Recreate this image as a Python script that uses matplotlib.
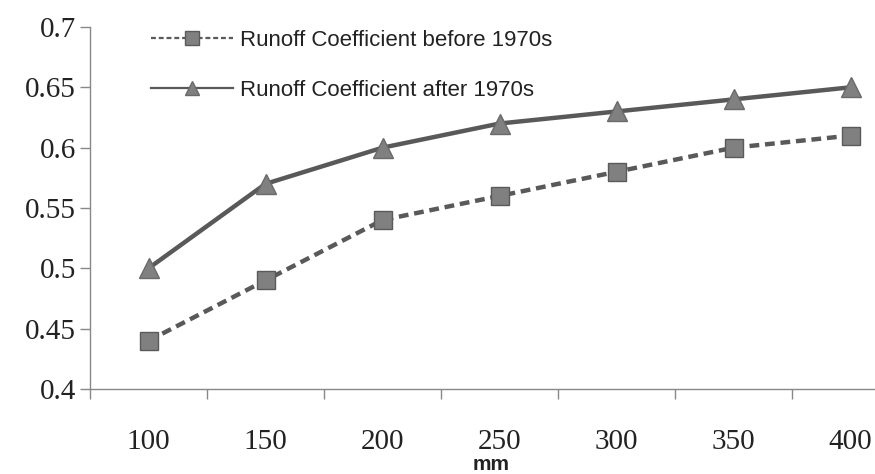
import matplotlib
matplotlib.use("Agg")
import matplotlib.pyplot as plt
from matplotlib.ticker import FixedLocator

categories = ["100", "150", "200", "250", "300", "350", "400"]
before_1970 = [0.44, 0.49, 0.54, 0.56, 0.58, 0.60, 0.61]
after_1970 = [0.50, 0.57, 0.60, 0.62, 0.63, 0.64, 0.65]
y_ticks = [0.4, 0.45, 0.5, 0.55, 0.6, 0.65, 0.7]
y_labels = ["0.4", "0.45", "0.5", "0.55", "0.6", "0.65", "0.7"]

fig = plt.figure(figsize=(8.75, 4.74), dpi=100)
ax = fig.add_axes([90/875, 1-389/474, 819/875, (389-27)/474])

x = list(range(len(categories)))
line_col = "#595959"
face_col = "#808080"
ax.plot(x, before_1970, linestyle=(0, (2.2, 1.3)), color=line_col, lw=3.2,
        marker="s", markersize=13, markerfacecolor=face_col, markeredgecolor="#5a5a5a",
        markeredgewidth=1, label="Runoff Coefficient before 1970s")
ax.plot(x, after_1970, linestyle="-", color=line_col, lw=3.2,
        marker="^", markersize=14, markerfacecolor=face_col, markeredgecolor="#6a6a6a",
        markeredgewidth=1, label="Runoff Coefficient after 1970s")

ax.set_xlim(-0.5, len(categories) - 0.5)
ax.set_ylim(0.4, 0.7)
ax.set_yticks(y_ticks)
ax.set_yticklabels(y_labels, family="Liberation Serif", fontsize=21)
ax.set_xticks(x)
ax.set_xticklabels(categories, family="Liberation Serif", fontsize=21)
ax.xaxis.set_minor_locator(FixedLocator([i - 0.5 for i in range(len(categories) + 1)]))
ax.tick_params(axis="x", which="major", length=0, pad=29, colors="#222222")
ax.tick_params(axis="x", which="minor", length=7, width=1, color="#888888")
ax.tick_params(axis="y", length=7, width=1, color="#888888", pad=3, colors="#222222")

for s in ["top", "right"]:
    ax.spines[s].set_visible(False)
for s in ["left", "bottom"]:
    ax.spines[s].set_color("#888888")
    ax.spines[s].set_linewidth(1)

fig.text(491/875, 1-464/474, "mm", fontsize=15, fontweight="bold", family="Liberation Sans",
         ha="center", va="center", color="#222222")

leg = ax.legend(loc="upper left", bbox_to_anchor=(151/875, 1-30/474), bbox_transform=fig.transFigure,
                frameon=False, handlelength=3.7, labelspacing=1.3, handletextpad=0.3,
                prop={"family": "Liberation Sans", "size": 16}, borderaxespad=0, borderpad=0)
for h in leg.get_lines():
    h.set_markersize(10)
    h.set_linewidth(1.6)
for t in leg.get_texts():
    t.set_color("#222222")

fig.savefig("out.png", dpi=100)
